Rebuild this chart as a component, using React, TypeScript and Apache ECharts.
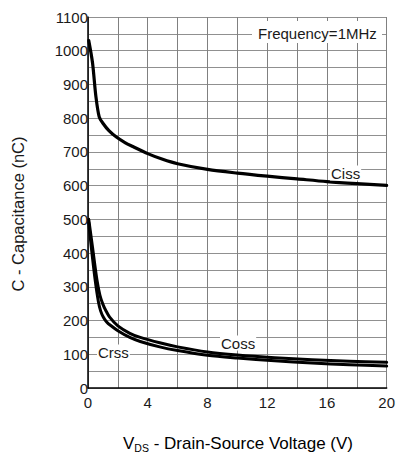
import React, { useEffect, useRef } from "react";
import * as echarts from "echarts";

const cissV = [0.05, 0.3, 0.53, 0.75, 1.0, 1.4, 1.9, 2.5, 3, 4, 5, 6, 8, 10, 12, 14, 16, 18, 20];
const cissValues = [1030, 965, 864, 804, 785, 763, 744, 727, 716, 695, 678, 665, 648, 637, 628, 620, 612, 606, 601];
const cossV = [0.05, 0.3, 0.6, 0.8, 1.0, 1.2, 1.45, 2, 2.8, 3.5, 4.8, 6, 8, 10, 12.5, 15, 17.5, 20];
const cossValues = [500, 418, 320, 275, 248, 229, 210, 184, 162, 150, 134, 122, 107, 98, 90, 84, 79, 76];
const crssV = [0.05, 0.22, 0.48, 0.7, 0.85, 1.03, 1.25, 1.5, 2, 2.8, 3.5, 4.8, 6, 8, 10, 12.5, 15, 17.5, 20];
const crssValues = [490, 418, 320, 255, 228, 210, 196, 186, 170, 150, 138, 122, 111, 97, 89, 81, 74, 69, 65];

const xTicks = [0, 4, 8, 12, 16, 20];
const yTicks = [0, 100, 200, 300, 400, 500, 600, 700, 800, 900, 1000, 1100];

const FONT = "Liberation Sans, Arial, sans-serif";

function pairs(xs: number[], ys: number[]) {
  return xs.map((x, i) => [x, ys[i]]);
}

export default function App() {
  const ref = useRef<HTMLDivElement>(null);
  useEffect(() => {
    if (!ref.current) return;
    const chart = echarts.init(ref.current, undefined, { renderer: "svg" });
    const lineSeries = (name: string, data: number[][], w: number) => ({
      name,
      type: "line",
      data,
      showSymbol: false,
      smooth: 0.3,
      lineStyle: { color: "#000", width: w, join: "round", cap: "round" },
      z: 5,
    });
    const label = (text: string, x: number, y: number) => ({
      type: "text",
      x,
      y,
      z: 11,
      style: {
        text,
        font: `15px ${FONT}`,
        fill: "#1a1a1a",
        verticalAlign: "middle",
        backgroundColor: "#fff",
        padding: [0, 1],
      },
    });
    chart.setOption({
      animation: false,
      backgroundColor: "#fff",
      grid: { left: 88, top: 17, right: 8, bottom: 72, containLabel: false },
      xAxis: {
        type: "value",
        min: 0,
        max: 20,
        interval: 2,
        axisLine: { show: true, onZero: false, lineStyle: { color: "#000", width: 1.5 } },
        axisTick: { show: false },
        splitLine: { show: true, lineStyle: { color: "#808080", width: 1 } },
        axisLabel: {
          margin: 7,
          fontFamily: FONT,
          fontSize: 15,
          color: "#1a1a1a",
          showMaxLabel: true,
          formatter: (v: number) => (xTicks.includes(v) ? String(v) : ""),
        },
      },
      yAxis: {
        type: "value",
        min: 0,
        max: 1100,
        interval: 50,
        axisLine: { show: true, onZero: false, lineStyle: { color: "#000", width: 1.5 } },
        axisTick: { show: false },
        splitLine: { show: true, lineStyle: { color: "#909090", width: 1 } },
        axisLabel: {
          margin: 0,
          fontFamily: FONT,
          fontSize: 15,
          color: "#1a1a1a",
          formatter: (v: number) => (yTicks.includes(v) ? String(v) : ""),
        },
      },
      series: [
        lineSeries("Ciss", pairs(cissV, cissValues), 3.2),
        lineSeries("Coss", pairs(cossV, cossValues), 3),
        lineSeries("Crss", pairs(crssV, crssValues), 3),
      ],
      graphic: [
        {
          type: "rect",
          shape: { x: 252, y: 21, width: 130, height: 22 },
          style: { fill: "#fff" },
          z: 10,
        },
        {
          type: "text",
          x: 258,
          y: 33,
          z: 11,
          style: {
            text: "Frequency=1MHz",
            font: `15px ${FONT}`,
            fill: "#1a1a1a",
            verticalAlign: "middle",
          },
        },
        label("Ciss", 330, 173),
        label("Coss", 220, 343),
        label("Crss", 97, 352),
        {
          type: "text",
          x: 18,
          y: 214,
          rotation: Math.PI / 2,
          z: 11,
          style: {
            text: "C - Capacitance (nC)",
            font: `16.5px ${FONT}`,
            fill: "#1a1a1a",
            align: "center",
            verticalAlign: "middle",
          },
        },
        {
          type: "text",
          x: 238,
          y: 443,
          z: 11,
          style: {
            text: "{v|V}{s|DS}{v| - Drain-Source Voltage (V)}",
            align: "center",
            verticalAlign: "middle",
            rich: {
              v: { fontFamily: FONT, fontSize: 17, color: "#1a1a1a" },
              s: { fontFamily: FONT, fontSize: 10.5, color: "#1a1a1a", padding: [10, 0, 0, 0] },
            },
          },
        },
      ],
    });
    return () => chart.dispose();
  }, []);
  return (
    <div
      ref={ref}
      style={{ position: "absolute", left: 0, top: 0, width: 398, height: 460 }}
    />
  );
}
